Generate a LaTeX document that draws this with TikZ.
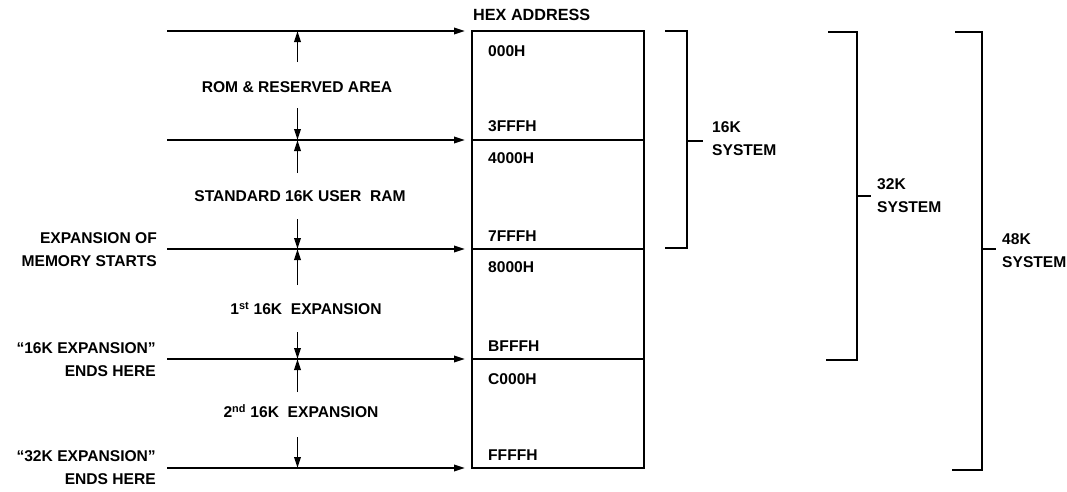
\documentclass[tikz,border=0pt]{standalone}
\usepackage{fontspec}
\setmainfont{Liberation Sans}
\usetikzlibrary{arrows.meta}
\begin{document}
\begin{tikzpicture}[x=1pt,y=-1pt,
  txt/.style={font=\fontsize{15.6}{23}\selectfont\bfseries, inner sep=0pt},
  ln/.style={line width=1.9pt},
  arr/.style={ln,-{Triangle[length=11pt,width=6.5pt]}},
  cell/.style={draw,line width=2.2pt,minimum width=172pt,minimum height=109pt,inner sep=0pt,outer sep=0pt,anchor=north west}]
\useasboundingbox (0,0) rectangle (1067,491);

% memory map cells
\node[cell] (c1) at (472,31) {};
\node[cell] (c2) at (472,140) {};
\node[cell,minimum height=110pt] (c3) at (472,249) {};
\node[cell] (c4) at (472,359) {};

\node[txt,anchor=west,font=\fontsize{16.2}{20}\selectfont\bfseries] (hex) at (473,15) {HEX ADDRESS};

% addresses
\node[txt,anchor=west] (a1) at (488,51) {000H};
\node[txt,anchor=west] (a2) at (488,126) {3FFFH};
\node[txt,anchor=west] (a3) at (488,158) {4000H};
\node[txt,anchor=west] (a4) at (488,236) {7FFFH};
\node[txt,anchor=west] (a5) at (488,267) {8000H};
\node[txt,anchor=west] (a6) at (488,346) {BFFFH};
\node[txt,anchor=west] (a7) at (488,379) {C000H};
\node[txt,anchor=west] (a8) at (488,455) {FFFFH};

% horizontal arrows
\coordinate (h0) at (167,31);
\coordinate (h1) at (167,140);
\coordinate (h2) at (167,249);
\coordinate (h3) at (167,359);
\coordinate (h4) at (167,468);
\draw[arr,shorten >=7pt] (h0) -- (c1.north west);
\draw[arr,shorten >=7pt] (h1) -- (c2.north west);
\draw[arr,shorten >=7pt] (h2) -- (c3.north west);
\draw[arr,shorten >=7pt] (h3) -- (c4.north west);
\draw[arr,shorten >=7pt] (h4) -- (c4.south west);

% region labels
\node[txt,anchor=base] (rom) at (297,92.5) {ROM \& RESERVED AREA};
\node[txt,anchor=base] (std) at (300,201.5) {STANDARD 16K USER\ \ RAM};
\node[txt,anchor=base] (ex1) at (306,314.5) {1\textsuperscript{st} 16K\ \ EXPANSION};
\node[txt,anchor=base] (ex2) at (301,417.5) {2\textsuperscript{nd} 16K\ \ EXPANSION};

% vertical arrows
\coordinate (m0) at (297.5,31);
\coordinate (m1) at (297.5,140);
\coordinate (m2) at (297.5,249);
\coordinate (m3) at (297.5,359);
\coordinate (m4) at (297.5,468);
\coordinate (u1) at (297.5,62);
\coordinate (d1) at (297.5,108);
\coordinate (u2) at (297.5,173);
\coordinate (d2) at (297.5,219);
\coordinate (u3) at (297.5,285);
\coordinate (d3) at (297.5,332);
\coordinate (u4) at (297.5,392);
\coordinate (d4) at (297.5,437);
\draw[arr] (u1) -- (m0);
\draw[arr] (d1) -- (m1);
\draw[arr] (u2) -- (m1);
\draw[arr] (d2) -- (m2);
\draw[arr] (u3) -- (m2);
\draw[arr] (d3) -- (m3);
\draw[arr] (u4) -- (m3);
\draw[arr] (d4) -- (m4);

% left labels
\node[txt,align=right,anchor=east] (lab1) at (157,250) {EXPANSION OF\\MEMORY STARTS};
\node[txt,align=right,anchor=east] (lab2) at (156,360) {\textquotedblleft16K EXPANSION\textquotedblright\\ENDS HERE};
\node[txt,align=right,anchor=east] (lab3) at (156,468) {\textquotedblleft32K EXPANSION\textquotedblright\\ENDS HERE};

% brackets
\coordinate (b16a) at (665,31);
\coordinate (b16b) at (687,31);
\coordinate (b16c) at (687,248);
\coordinate (b16d) at (665,248);
\coordinate (b16m) at (687,141);
\draw[ln] (b16a) -- (b16b) -- (b16c) -- (b16d);
\node[txt,align=left,anchor=west] (s16) at (712,139) {16K\\SYSTEM};
\draw[ln,shorten >=9pt] (b16m) -- (b16m -| s16.west);

\coordinate (b32a) at (828,32);
\coordinate (b32b) at (857,32);
\coordinate (b32c) at (857,360);
\coordinate (b32d) at (826,360);
\coordinate (b32m) at (857,196);
\draw[ln] (b32a) -- (b32b) -- (b32c) -- (b32d);
\node[txt,align=left,anchor=west] (s32) at (877,195.5) {32K\\SYSTEM};
\draw[ln,shorten >=6pt] (b32m) -- (b32m -| s32.west);

\coordinate (b48a) at (955,32);
\coordinate (b48b) at (982,32);
\coordinate (b48c) at (982,470);
\coordinate (b48d) at (952,470);
\coordinate (b48m) at (982,249);
\draw[ln] (b48a) -- (b48b) -- (b48c) -- (b48d);
\node[txt,align=left,anchor=west] (s48) at (1002,250.5) {48K\\SYSTEM};
\draw[ln,shorten >=6pt] (b48m) -- (b48m -| s48.west);
\end{tikzpicture}
\end{document}
